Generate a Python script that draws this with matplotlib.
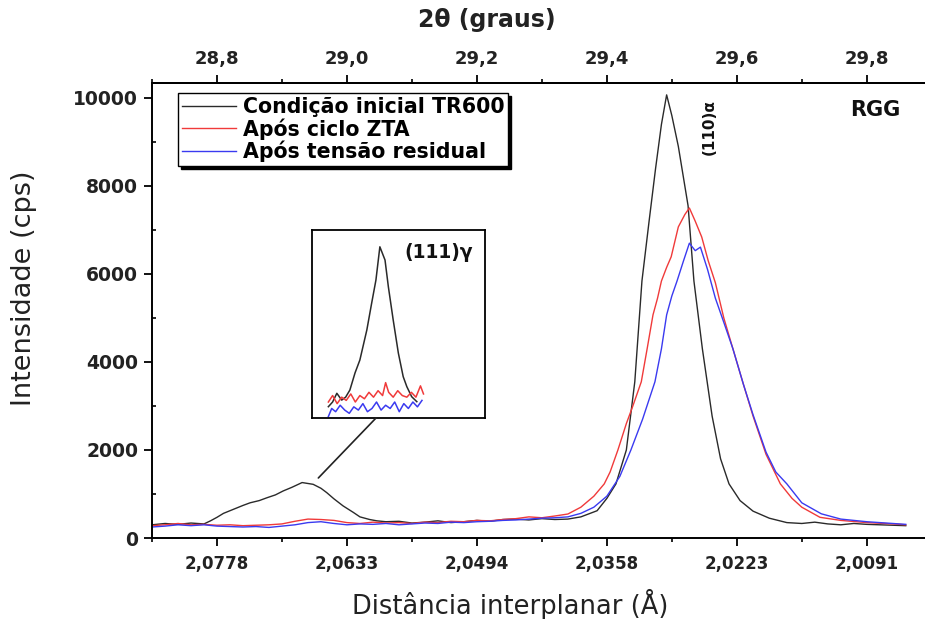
import matplotlib
matplotlib.use("Agg")
import matplotlib.pyplot as plt
from matplotlib.ticker import MultipleLocator, FixedLocator
from matplotlib.patches import ConnectionPatch

# ---------------- data ----------------
tick_2theta = [28.8, 29.0, 29.2, 29.4, 29.6, 29.8]
top_labels = ["28,8", "29,0", "29,2", "29,4", "29,6", "29,8"]
d_labels = ["2,0778", "2,0633", "2,0494", "2,0358", "2,0223", "2,0091"]
y_ticks = [0, 2000, 4000, 6000, 8000, 10000]

series_names = ["Condição inicial TR600", "Após ciclo ZTA", "Após tensão residual"]

tt_black = [28.70, 28.72, 28.74, 28.76, 28.78, 28.79, 28.80, 28.81, 28.82, 28.83,
            28.84, 28.851, 28.865, 28.877, 28.89, 28.902, 28.915, 28.931, 28.948, 28.96,
            28.969, 28.98, 28.994, 29.01, 29.02, 29.035, 29.046, 29.06, 29.08, 29.10,
            29.12, 29.14, 29.16, 29.18, 29.20, 29.22, 29.24, 29.26, 29.28, 29.30,
            29.32, 29.34, 29.36, 29.385, 29.40, 29.414, 29.43, 29.443, 29.454, 29.465,
            29.475, 29.484, 29.492, 29.50, 29.51, 29.525, 29.534, 29.547, 29.562, 29.575,
            29.588, 29.605, 29.625, 29.65, 29.677, 29.70, 29.72, 29.74, 29.76, 29.78,
            29.80, 29.82, 29.84, 29.86]
I_black = [300, 330, 310, 340, 320, 390, 470, 560, 620, 680,
           740, 800, 850, 915, 980, 1070, 1150, 1260, 1220, 1130,
           1030, 890, 730, 580, 480, 420, 390, 370, 380, 340,
           360, 390, 350, 370, 400, 380, 420, 430, 410, 440,
           420, 430, 480, 620, 900, 1230, 2000, 3550, 5840, 7200,
           8400, 9400, 10070, 9600, 8900, 7550, 5840, 4300, 2770, 1800,
           1230, 850, 610, 450, 350, 330, 360, 320, 300, 330,
           310, 300, 290, 280]

tt_red = [28.70, 28.72, 28.74, 28.76, 28.78, 28.80, 28.82, 28.84, 28.86, 28.88,
          28.90, 28.92, 28.94, 28.96, 28.98, 29.00, 29.02, 29.04, 29.06, 29.08,
          29.10, 29.12, 29.14, 29.16, 29.18, 29.20, 29.22, 29.24, 29.26, 29.28,
          29.30, 29.32, 29.34, 29.36,
          29.38, 29.396, 29.405, 29.417, 29.43, 29.44, 29.453, 29.462, 29.471, 29.478,
          29.484, 29.492, 29.499, 29.51, 29.52, 29.527, 29.536, 29.546, 29.556, 29.567,
          29.58, 29.594, 29.61, 29.625, 29.645, 29.667, 29.685, 29.70, 29.728, 29.76,
          29.80, 29.84, 29.86]
I_red = [280, 300, 330, 300, 310, 290, 300, 280, 290, 300,
         320, 380, 430, 420, 400, 350, 330, 360, 340, 350,
         330, 360, 350, 380, 370, 400, 390, 420, 440, 480,
         460, 500, 545, 700,
         950, 1230, 1500, 2000, 2600, 3000, 3550, 4300, 5070, 5450,
         5840, 6150, 6390, 7070, 7350, 7500, 7200, 6840, 6300, 5800,
         5000, 4300, 3500, 2770, 1900, 1230, 900, 700, 470, 400,
         350, 320, 300]

tt_blue = [28.70, 28.72, 28.74, 28.76, 28.78, 28.80, 28.82, 28.84, 28.86, 28.88,
           28.90, 28.92, 28.94, 28.96, 28.98, 29.00, 29.02, 29.04, 29.06, 29.08,
           29.10, 29.12, 29.14, 29.16, 29.18, 29.20, 29.22, 29.24, 29.26, 29.28,
           29.30, 29.32, 29.34, 29.36,
           29.38, 29.40, 29.42, 29.437, 29.455, 29.474, 29.484, 29.492, 29.50, 29.508,
           29.518, 29.527, 29.536, 29.544, 29.555, 29.567, 29.58, 29.594, 29.61, 29.625,
           29.645, 29.66, 29.677, 29.70, 29.73, 29.76, 29.80, 29.84, 29.86]
I_blue = [250, 270, 300, 280, 300, 270, 260, 250, 260, 240,
          270, 300, 350, 370, 330, 300, 320, 310, 330, 300,
          320, 340, 330, 360, 350, 370, 380, 400, 410, 430,
          450, 460, 480, 560,
          700, 950, 1400, 2000, 2700, 3550, 4300, 5070, 5500, 5840,
          6300, 6700, 6530, 6610, 6100, 5450, 4900, 4300, 3500, 2800,
          1950, 1500, 1230, 800, 550, 430, 370, 330, 310]

# inset (111)gamma region
tt_in_black = [28.761, 28.775, 28.789, 28.805, 28.818, 28.832, 28.849, 28.865, 28.888, 28.904,
               28.918, 28.931, 28.948, 28.959, 28.975, 28.992, 29.008, 29.020, 29.036, 29.053]
I_in_black = [271, 300, 354, 312, 330, 374, 480, 560, 746, 913,
              1055, 1261, 1179, 1014, 808, 603, 457, 395, 333, 302]
tt_in_red = [28.761, 28.775, 28.79, 28.805, 28.82, 28.835, 28.85, 28.865, 28.88, 28.895,
             28.91, 28.925, 28.94, 28.95, 28.96, 28.975, 28.99, 29.005, 29.02, 29.035,
             29.05, 29.065, 29.075]
I_in_red = [300, 340, 290, 330, 310, 350, 300, 340, 320, 360,
            330, 370, 340, 420, 360, 330, 370, 340, 330, 360,
            330, 400, 350]
tt_in_blue = [28.761, 28.772, 28.785, 28.80, 28.815, 28.83, 28.845, 28.86, 28.875, 28.89,
              28.905, 28.92, 28.935, 28.95, 28.965, 28.98, 28.995, 29.01, 29.025, 29.04,
              29.055, 29.07]
I_in_blue = [210, 260, 240, 280, 250, 230, 270, 250, 290, 240,
             260, 300, 250, 280, 260, 300, 240, 290, 260, 300,
             270, 310]

# ---------------- style ----------------
C_BLACK = "#2a2a2a"
C_RED = "#f03a3a"
C_BLUE = "#3a3af0"
LW = 1.0
FONT = "DejaVu Sans"

W, H = 925, 619
fig = plt.figure(figsize=(W / 100, H / 100), dpi=100)
fig.patch.set_facecolor("white")

ax_left, ax_right, ax_top, ax_bot = 152, 928.5, 83, 538
ax = fig.add_axes([ax_left / W, (H - ax_bot) / H, (ax_right - ax_left) / W, (ax_bot - ax_top) / H])

l1, = ax.plot(tt_black, I_black, color=C_BLACK, lw=LW, label=series_names[0])
l2, = ax.plot(tt_red, I_red, color=C_RED, lw=LW, label=series_names[1])
l3, = ax.plot(tt_blue, I_blue, color=C_BLUE, lw=LW, label=series_names[2])

ax.set_xlim(28.7, 29.895)
ax.set_ylim(0, 10340)

for s in ax.spines.values():
    s.set_linewidth(1.4)
ax.spines["right"].set_visible(False)

# bottom axis: d-spacing labels at the 2theta positions
ax.xaxis.set_major_locator(FixedLocator(tick_2theta))
ax.set_xticklabels(d_labels)
ax.xaxis.set_minor_locator(MultipleLocator(0.1))
ax.tick_params(axis="x", which="major", direction="out", length=6, width=1.3, pad=6)
ax.tick_params(axis="x", which="minor", direction="out", length=3, width=1.2)
for t in ax.get_xticklabels():
    t.set_fontfamily(FONT)
    t.set_fontweight("bold")
    t.set_fontsize(12)
    t.set_color("#222222")

ax.yaxis.set_major_locator(FixedLocator(y_ticks))
ax.yaxis.set_minor_locator(MultipleLocator(1000))
ax.tick_params(axis="y", which="major", direction="out", length=6, width=1.3, pad=4)
ax.tick_params(axis="y", which="minor", direction="in", length=3, width=1.2)
for t in ax.get_yticklabels():
    t.set_fontfamily(FONT)
    t.set_fontweight("bold")
    t.set_fontsize(13.5)
    t.set_color("#222222")

# top axis: 2theta
secax = ax.secondary_xaxis("top")
secax.set_xticks(tick_2theta)
secax.set_xticklabels(top_labels)
secax.xaxis.set_minor_locator(MultipleLocator(0.1))
secax.tick_params(axis="x", which="major", direction="out", length=6, width=1.3, pad=5)
secax.tick_params(axis="x", which="minor", direction="out", length=3, width=1.2)
secax.spines["top"].set_linewidth(1.4)
for t in secax.get_xticklabels():
    t.set_fontfamily(FONT)
    t.set_fontweight("bold")
    t.set_fontsize(13)
    t.set_color("#222222")

# axis titles
fig.text(487 / W, 1 - 20 / H, "2θ (graus)", ha="center", va="center",
         fontfamily=FONT, fontweight="bold", fontsize=17, color="#222222")
fig.text(510 / W, 1 - 604 / H, "Distância interplanar (Å)", ha="center", va="center",
         fontfamily=FONT, fontsize=18.5, color="#222222")
fig.text(24 / W, 1 - 288 / H, "Intensidade (cps)", ha="center", va="center", rotation=90,
         fontfamily=FONT, fontsize=19.5, color="#222222")

# annotations
ax.text((875 - ax_left) / (ax_right - ax_left), (ax_bot - 110) / (ax_bot - ax_top), "RGG",
        transform=ax.transAxes, ha="center", va="center",
        fontfamily=FONT, fontweight="bold", fontsize=15, color="#111111")
ax.text((709 - ax_left) / (ax_right - ax_left), (ax_bot - 127) / (ax_bot - ax_top), "(110)α",
        transform=ax.transAxes, ha="center", va="center", rotation=90,
        fontfamily=FONT, fontweight="bold", fontsize=11, color="#111111")

# legend
leg = ax.legend(handles=[l1, l2, l3], loc="upper left",
                bbox_to_anchor=(178 / W, 1 - 93 / H), bbox_transform=fig.transFigure,
                borderaxespad=0, fancybox=False, edgecolor="black", framealpha=1,
                shadow={"color": "black", "alpha": 1.0},
                borderpad=0.2, labelspacing=0.05, handlelength=2.6, handletextpad=0.35,
                prop={"family": FONT, "weight": "bold", "size": 14.8})
leg.get_frame().set_linewidth(1.0)

# inset
in_l, in_r, in_t, in_b = 312, 485, 230, 418
axin = fig.add_axes([in_l / W, (H - in_b) / H, (in_r - in_l) / W, (in_b - in_t) / H])
axin.plot(tt_in_black, I_in_black, color=C_BLACK, lw=1.1)
axin.plot(tt_in_red, I_in_red, color=C_RED, lw=1.1)
axin.plot(tt_in_blue, I_in_blue, color=C_BLUE, lw=1.1)
axin.set_xlim(28.707, 29.278)
axin.set_ylim(201, 1365)
axin.set_xticks([])
axin.set_yticks([])
for s in axin.spines.values():
    s.set_linewidth(1.3)
axin.text(0.73, 0.88, "(111)γ", transform=axin.transAxes, ha="center", va="center",
          fontfamily=FONT, fontweight="bold", fontsize=13.5, color="#111111")

con = ConnectionPatch(xyA=(28.956, 1364), coordsA=ax.transData,
                      xyB=(0.37, 0.0), coordsB=axin.transAxes,
                      color="#222222", lw=1.2)
fig.add_artist(con)

fig.savefig("out.png", dpi=100, facecolor="white")
